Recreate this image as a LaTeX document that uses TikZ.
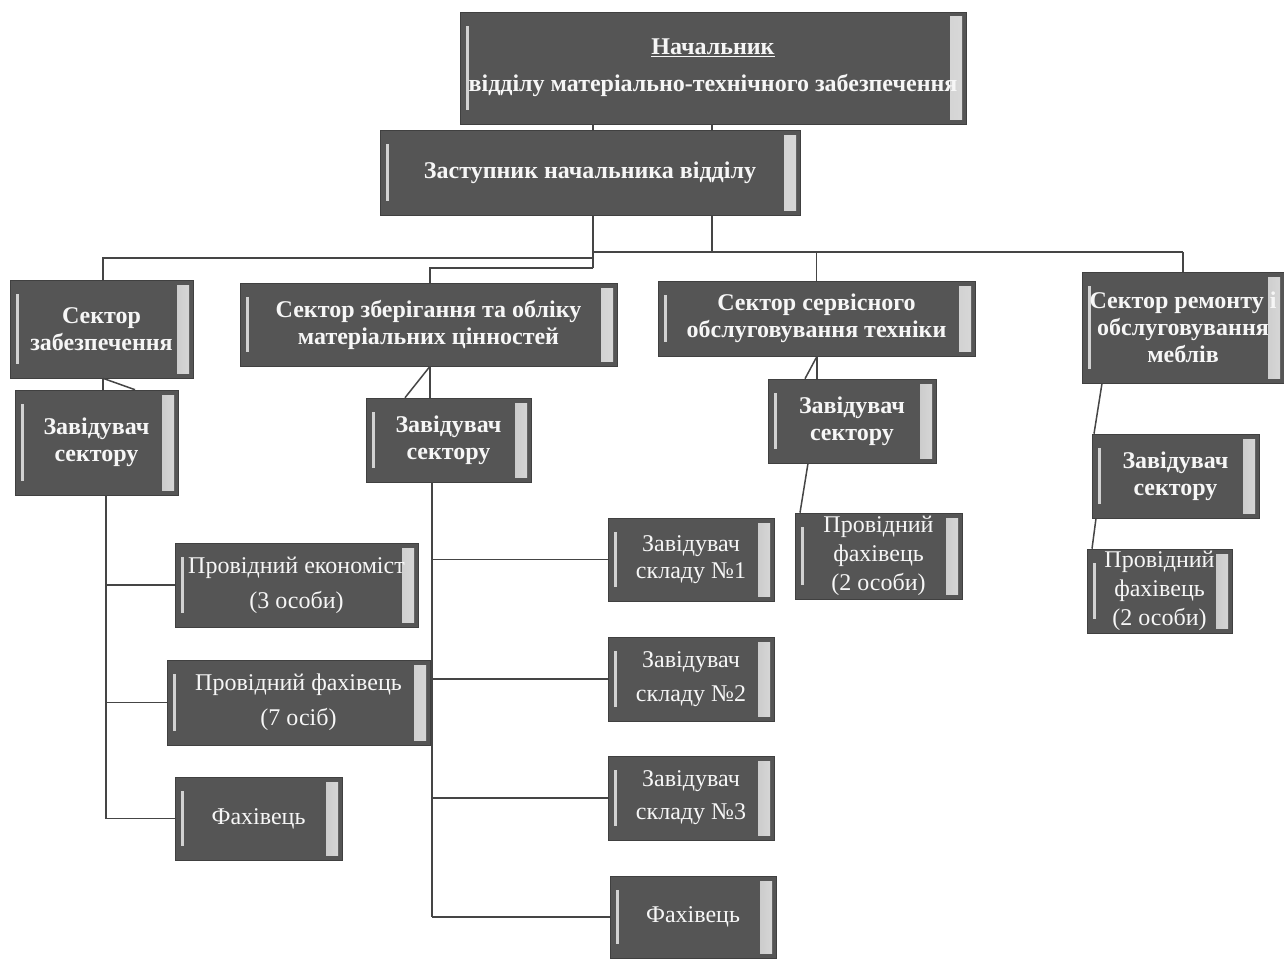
\documentclass[tikz,border=0pt]{standalone}
\usepackage{fontspec}
\setmainfont{Liberation Serif}
\definecolor{boxgray}{HTML}{555555}
\definecolor{linegray}{HTML}{454545}
\tikzset{
  box/.style={draw=black!75, line width=0.6pt, fill=boxgray, text=white!93!gray, align=center, inner sep=1pt,
    font=\fontsize{24}{27}\selectfont\bfseries,
    path picture={
      \shade[left color=boxgray, right color=white!70!gray]
        ([xshift=-16pt,yshift=-5pt]path picture bounding box.north east) rectangle
        ([xshift=-4pt,yshift=5pt]path picture bounding box.south east);
      \fill[white!65!gray]
        ([xshift=6pt,yshift=-14pt]path picture bounding box.north west) rectangle
        ([xshift=9pt,yshift=14pt]path picture bounding box.south west);
    }},
  lbox/.style={box, font=\fontsize{24}{27}\selectfont},
  link/.style={draw=linegray, line width=1.5pt}
}
\begin{document}
\begin{tikzpicture}[x=1pt,y=-1pt]
\fill[white] (0,0) rectangle (1284,958);
\useasboundingbox (0,0) rectangle (1284,958);

% boxes
\node[box, minimum width=506pt, minimum height=112pt, font=\fontsize{24}{37}\selectfont\bfseries] (top) at (713,68)
  {\underline{Начальник}\\відділу матеріально-технічного забезпечення};
\node[box, minimum width=420pt, minimum height=85pt] (dep) at (590,172.5) {Заступник начальника відділу};

\node[box, minimum width=183pt, minimum height=98pt] (s1) at (101.5,329) {Сектор\\забезпечення};
\node[box, minimum width=377pt, minimum height=83pt] (s2) at (428.5,324.5) {Сектор зберігання та обліку\\матеріальних цінностей};
\node[box, minimum width=317pt, minimum height=75pt] (s3) at (816.5,318.5) {Сектор сервісного\\обслуговування техніки};
\node[box, minimum width=202pt, minimum height=111pt] (s4) at (1183,327.5) {Сектор ремонту і\\обслуговування\\меблів};

\node[box, minimum width=163pt, minimum height=105pt] (z1) at (96.5,442.5) {Завідувач\\сектору};
\node[box, minimum width=165pt, minimum height=84pt] (z2) at (448.5,440) {Завідувач\\сектору};
\node[box, minimum width=168pt, minimum height=84pt] (z3) at (852,421) {Завідувач\\сектору};
\node[box, minimum width=167pt, minimum height=84pt] (z4) at (1175.5,476) {Завідувач\\сектору};

\node[lbox, minimum width=243pt, minimum height=84pt, font=\fontsize{24}{35}\selectfont] (pe) at (296.5,585) {Провідний економіст\\(3 особи)};
\node[lbox, minimum width=263pt, minimum height=85pt, font=\fontsize{24}{35}\selectfont] (pf7) at (298.5,702.5) {Провідний фахівець\\(7 осіб)};
\node[lbox, minimum width=167pt, minimum height=83pt] (f1) at (258.5,818.5) {Фахівець};

\node[lbox, minimum width=166pt, minimum height=83pt] (sk1) at (691,559.5) {Завідувач\\складу №1};
\node[lbox, minimum width=166pt, minimum height=84pt, font=\fontsize{24}{34}\selectfont] (sk2) at (691,679) {Завідувач\\складу №2};
\node[lbox, minimum width=166pt, minimum height=84pt, font=\fontsize{24}{33}\selectfont] (sk3) at (691,798) {Завідувач\\складу №3};
\node[lbox, minimum width=166pt, minimum height=82pt] (f2) at (693,917) {Фахівець};

\node[lbox, minimum width=167pt, minimum height=86pt, font=\fontsize{24}{29}\selectfont] (pfa) at (878.5,556) {Провідний\\фахівець\\(2 особи)};
\node[lbox, minimum width=145pt, minimum height=84pt, font=\fontsize{24}{29}\selectfont] (pfb) at (1159.5,591) {Провідний\\фахівець\\(2 особи)};

% coordinates for connectors
\coordinate (dl) at (593,215);
\coordinate (dr) at (712,215);
\coordinate (bus) at (593,252);
\coordinate (busl) at (593,258);
\coordinate (busm) at (593,268);

% top levels
\draw[link] (top.south -| dl) -- (dep.north -| dl);
\draw[link] (top.south -| dr) -- (dep.north -| dr);
\draw[link] (dl) -- (busm);
\draw[link] (dr) -- (dr |- bus);
\draw[link] (bus) -- (bus -| s4.north);
\draw[link] (bus -| s4.north) -- (s4.north);
\draw[link] (bus -| s3.north) -- (s3.north);
\draw[link] (busl) -- (busl -| 103,0) -- (s1.north -| 103,0);
\draw[link] (busm) -- (busm -| 430,0) -- (s2.north -| 430,0);

% sector to heads
\draw[link] (s1.south -| 103,0) -- (z1.north -| 103,0);
\draw[link] (s1.south -| 103,0) -- (z1.north -| 135,0);
\draw[link] (s2.south -| 430,0) -- (z2.north -| 430,0);
\draw[link] (s2.south -| 430,0) -- (z2.north -| 405,0);
\draw[link] (s3.south -| 817,0) -- (z3.north -| 817,0);
\draw[link] (s3.south -| 817,0) -- (z3.north -| 805,0);
\draw[link] (s4.south -| 1102,0) -- (z4.north -| 1094,0);
\draw[link] (z4.south -| 1096,0) -- (pfb.north -| 1092,0);
\draw[link] (z3.south -| 808,0) -- (pfa.north -| 800,0);

% left tree
\draw[link] (z1.south -| 106,0) -- (106,818.5);
\draw[link] (106,585) -- (pe.west);
\draw[link] (106,702.5) -- (pf7.west);
\draw[link] (106,818.5) -- (f1.west);

% middle tree
\draw[link] (z2.south -| 432,0) -- (432,917);
\draw[link] (432,559.5) -- (sk1.west);
\draw[link] (432,679) -- (sk2.west);
\draw[link] (432,798) -- (sk3.west);
\draw[link] (432,917) -- (f2.west);
\end{tikzpicture}
\end{document}
